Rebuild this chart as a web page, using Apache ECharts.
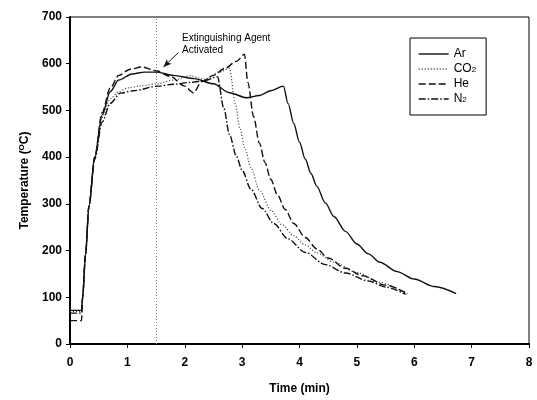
<!DOCTYPE html>
<html>
<head>
<meta charset="utf-8">
<script src="https://cdn.jsdelivr.net/npm/echarts@6/dist/echarts.min.js"></script>
<style>
  html, body { margin: 0; padding: 0; background: #fff; }
  #chart { width: 537px; height: 400px; }
</style>
</head>
<body>
<div id="chart"></div>
<script>
// time (min), temperature (C)
const ar = [[0, 72], [0.2, 72], [0.22, 100], [0.27, 190], [0.33, 295], [0.43, 400], [0.56, 490], [0.7, 540],
  [0.85, 565], [1.08, 578], [1.3, 582], [1.52, 582], [1.8, 575], [2.17, 568], [2.5, 557], [2.78, 538],
  [3.08, 527], [3.3, 532], [3.5, 542], [3.72, 552], [3.8, 515], [3.9, 472], [4.0, 432], [4.1, 396],
  [4.2, 365], [4.3, 338], [4.45, 302], [4.6, 273], [4.8, 241], [5.0, 214], [5.2, 193], [5.4, 175],
  [5.7, 155], [6.0, 139], [6.35, 123], [6.73, 108]];

const co2 = [[0, 70], [0.2, 70], [0.22, 100], [0.27, 190], [0.33, 295], [0.43, 400], [0.56, 485], [0.7, 525],
  [0.85, 540], [1.0, 548], [1.25, 553], [1.52, 557], [1.8, 565], [2.1, 574], [2.35, 567], [2.6, 582],
  [2.78, 590], [2.88, 515], [2.96, 462], [3.05, 418], [3.15, 378], [3.3, 330], [3.5, 286], [3.7, 255],
  [3.9, 232], [4.1, 212], [4.3, 195], [4.6, 175], [5.0, 153], [5.4, 132], [5.88, 107]];

const he = [[0, 50], [0.2, 50], [0.22, 100], [0.27, 190], [0.33, 295], [0.43, 400], [0.56, 495], [0.7, 548],
  [0.85, 575], [1.05, 588], [1.25, 593], [1.5, 585], [1.75, 573], [2.0, 552], [2.15, 538], [2.3, 562],
  [2.5, 575], [2.7, 590], [2.9, 605], [3.04, 620], [3.1, 560], [3.2, 487], [3.3, 430], [3.4, 388],
  [3.5, 352], [3.62, 318], [3.75, 288], [3.9, 258], [4.1, 228], [4.3, 204], [4.5, 184], [4.8, 162],
  [5.1, 146], [5.5, 126], [5.88, 108]];

const n2 = [[0, 66], [0.2, 66], [0.22, 100], [0.27, 190], [0.33, 295], [0.43, 395], [0.56, 475], [0.7, 515],
  [0.88, 537], [1.1, 542], [1.53, 552], [1.8, 556], [2.1, 560], [2.35, 564], [2.57, 572], [2.68, 505],
  [2.78, 448], [2.9, 402], [3.0, 372], [3.15, 332], [3.35, 290], [3.55, 258], [3.8, 225], [4.1, 196],
  [4.45, 170], [4.8, 152], [5.2, 135], [5.5, 122], [5.85, 106]];

const seriesNames = ['Ar', 'CO2', 'He', 'N2'];
const activatedAt = 1.5;
const arrowFrom = [1.89, 624];
const arrowTo = [1.63, 593];

const font = '"Liberation Sans", Arial, sans-serif';
const chart = echarts.init(document.getElementById('chart'));

function line(name, data, type, width, color) {
  return {
    name: name,
    type: 'line',
    data: data,
    symbol: 'none',
    smooth: 0.3,
    smoothMonotone: 'x',
    lineStyle: { color: color, width: width, type: type },
    itemStyle: { color: color }
  };
}

const series = [
  line('Ar', ar, 'solid', 1.4, '#111'),
  line('CO2', co2, [1, 2], 1.2, '#333'),
  line('He', he, [7, 3], 1.4, '#111'),
  line('N2', n2, [7, 2, 1.5, 2], 1.4, '#111')
];

series[0].markLine = {
  silent: true,
  symbol: 'none',
  label: { show: false },
  animation: false,
  data: [
    { xAxis: activatedAt, lineStyle: { color: '#777', type: [1, 2], width: 1 } },
    [
      { coord: arrowFrom, symbol: 'none' },
      { coord: arrowTo, symbol: 'arrow', symbolSize: [5, 8] }
    ]
  ],
  lineStyle: { color: '#111', type: 'solid', width: 1 }
};

chart.setOption({
  animation: false,
  grid: { left: 70, right: 8, top: 17, bottom: 51, show: true, borderColor: '#000', borderWidth: 1 },
  legend: {
    data: seriesNames,
    orient: 'vertical',
    left: 410,
    top: 38,
    backgroundColor: '#fff',
    borderColor: '#000',
    borderWidth: 1,
    padding: [10, 10, 10, 8],
    itemGap: 3,
    itemWidth: 30,
    itemHeight: 10,
    itemStyle: { opacity: 0 },
    lineStyle: { width: 1.4 },
    textStyle: {
      fontFamily: font, fontSize: 12, color: '#000', lineHeight: 10,
      rich: { s: { fontFamily: font, fontSize: 8, color: '#000', verticalAlign: 'bottom', padding: [6, 0, 0, 0] } }
    },
    formatter: function (n) { return n.replace(/2$/, '{s|2}'); }
  },
  xAxis: {
    type: 'value',
    min: 0, max: 8, interval: 1,
    name: 'Time (min)',
    nameLocation: 'middle',
    nameGap: 39,
    nameTextStyle: { fontFamily: font, fontSize: 12, fontWeight: 'bold', color: '#000' },
    axisLine: { onZero: false, lineStyle: { color: '#000', width: 2 } },
    axisTick: { inside: false, length: 4, lineStyle: { color: '#000' } },
    axisLabel: { fontFamily: font, fontSize: 12, fontWeight: 'bold', color: '#000', margin: 13 },
    splitLine: { show: false }
  },
  yAxis: {
    type: 'value',
    min: 0, max: 700, interval: 100,
    name: 'Temperature ({sup|O}C)',
    nameLocation: 'middle',
    nameGap: 32,
    nameTextStyle: {
      fontFamily: font, fontSize: 12, fontWeight: 'bold', color: '#000',
      rich: { sup: { fontFamily: font, fontSize: 8, fontWeight: 'bold', color: '#000', verticalAlign: 'top', padding: [0, 0, 6, 0] } }
    },
    axisLine: { lineStyle: { color: '#000', width: 2 } },
    axisTick: { length: 4, lineStyle: { color: '#000' } },
    axisLabel: { fontFamily: font, fontSize: 12, fontWeight: 'bold', color: '#000', margin: 8 },
    splitLine: { show: false }
  },
  graphic: [
    {
      type: 'text',
      left: 182,
      top: 32,
      style: {
        text: 'Extinguishing Agent\nActivated',
        font: '10px ' + font,
        fill: '#000',
        lineHeight: 12
      }
    }
  ],
  series: series
});
</script>
</body>
</html>
